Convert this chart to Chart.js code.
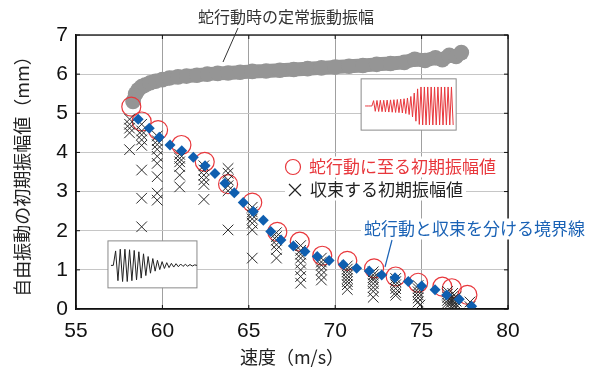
<!DOCTYPE html>
<html>
<head>
<meta charset="utf-8">
<script src="https://cdn.jsdelivr.net/npm/chart.js@4.4.1/dist/chart.umd.min.js"></script>
<style>
  html, body { margin: 0; padding: 0; background: #fff; }
  #wrap { width: 590px; height: 369px; }
</style>
</head>
<body>
<div id="wrap"><canvas id="c"></canvas></div>
<script>
// 蛇行動時の定常振動振幅 (gray band)
const grayX = [58.3, 58.45, 58.6, 58.8, 59.0, 59.3, 59.6, 60.0, 60.4, 60.9, 61.4, 62.0, 62.6, 63.2, 63.8, 64.5, 65.2, 66.0, 66.8, 67.6, 68.4, 69.2, 70.0, 70.8, 71.6, 72.4, 73.2, 74.0, 74.6, 75.2, 75.8, 76.2, 76.6, 77.0, 77.3];
const grayY = [5.3, 5.5, 5.6, 5.68, 5.72, 5.78, 5.82, 5.86, 5.9, 5.93, 5.95, 5.97, 6.0, 6.02, 6.03, 6.05, 6.07, 6.08, 6.1, 6.12, 6.14, 6.16, 6.18, 6.2, 6.22, 6.25, 6.27, 6.3, 6.38, 6.35, 6.42, 6.37, 6.48, 6.45, 6.55];

// 蛇行動に至る初期振幅値 (red circles)
const huntX = [58.2, 58.8, 59.75, 61.1, 62.45, 63.8, 65.2, 66.65, 67.95, 69.25, 70.7, 72.25, 73.5, 74.8, 76.2, 76.75, 77.65];
const huntY = [5.17, 4.79, 4.57, 4.19, 3.76, 3.19, 2.72, 1.97, 1.72, 1.36, 1.23, 1.04, 0.83, 0.67, 0.57, 0.53, 0.36];

// 収束する初期振幅値 (crosses)
const convX = [
  58.1, 58.1, 58.1, 58.1, 58.1,
  58.8, 58.8, 58.8, 58.8, 58.8, 58.8, 58.8, 58.8,
  59.7, 59.7, 59.7, 59.7, 59.7, 59.7, 59.7, 59.7, 59.7,
  61.0, 61.0, 61.0, 61.0, 61.0, 61.0,
  62.4, 62.4, 62.4, 62.4, 62.4, 62.4,
  63.8, 63.8, 63.8, 63.8, 63.8, 63.8,
  65.2, 65.2, 65.2, 65.2, 65.2, 65.2, 65.2,
  66.6, 66.6, 66.6, 66.6, 66.6, 66.6,
  68.0, 68.0, 68.0, 68.0, 68.0, 68.0, 68.0, 68.0,
  69.2, 69.2, 69.2, 69.2, 69.2, 69.2,
  70.7, 70.7, 70.7, 70.7, 70.7, 70.7, 70.7, 70.7,
  72.2, 72.2, 72.2, 72.2, 72.2, 72.2, 72.2, 72.2,
  73.5, 73.5, 73.5, 73.5, 73.5, 73.5,
  74.8, 74.8, 74.8, 74.8, 74.8, 74.8, 74.9,
  76.5, 76.5, 76.5, 76.5, 76.5, 76.5,
  76.8, 76.8, 76.8, 76.8, 76.8, 76.8,
  77.0, 77.0, 77.0, 77.0,
  77.8, 77.8
];
const convY = [
  4.85, 4.72, 4.62, 4.50, 4.07,
  4.72, 4.55, 4.45, 4.32, 4.18, 3.55, 2.83, 2.10,
  4.42, 4.30, 4.20, 4.08, 3.90, 3.72, 3.38, 2.96, 2.78,
  3.95, 3.85, 3.76, 3.64, 3.42, 3.12,
  3.66, 3.55, 3.42, 3.30, 3.18, 2.80,
  3.59, 3.47, 3.30, 3.15, 3.02, 2.02,
  2.60, 2.48, 2.40, 2.30, 2.19, 2.02, 1.30,
  1.95, 1.85, 1.76, 1.64, 1.52, 1.30,
  1.62, 1.50, 1.40, 1.30, 1.17, 1.00, 0.83, 0.66,
  1.30, 1.20, 1.12, 1.00, 0.87, 0.74,
  1.10, 1.02, 0.95, 0.86, 0.78, 0.70, 0.62, 0.50,
  0.95, 0.87, 0.80, 0.74, 0.65, 0.55, 0.45, 0.30,
  0.78, 0.70, 0.62, 0.52, 0.42, 0.35,
  0.60, 0.52, 0.44, 0.36, 0.28, 0.18, 0.10,
  0.45, 0.38, 0.30, 0.22, 0.15, 0.08,
  0.40, 0.32, 0.25, 0.18, 0.10, 0.04,
  0.30, 0.20, 0.12, 0.05,
  0.18, 0.06
];

// 蛇行動と収束を分ける境界線 (blue diamonds)
const bndX = [58.6, 59.24, 59.82, 60.44, 61.12, 61.79, 62.47, 63.04, 63.62, 64.16, 64.68, 65.26, 65.84, 66.27, 66.86, 67.58, 68.25, 68.96, 69.65, 70.47, 71.24, 71.97, 72.69, 73.46, 74.23, 75.0, 75.78, 76.45, 77.18, 77.9];
const bndY = [4.85, 4.62, 4.39, 4.19, 4.04, 3.88, 3.66, 3.46, 3.21, 2.97, 2.72, 2.49, 2.27, 1.98, 1.76, 1.61, 1.47, 1.34, 1.24, 1.14, 1.04, 0.97, 0.87, 0.80, 0.70, 0.59, 0.49, 0.36, 0.25, 0.07];

// inset waveforms (peak values, normalised)
const decayPeaks = [0, 0, 0.85, -0.9, 0.95, -0.95, 0.95, -0.95, 0.92, -0.9, 0.88, -0.85, 0.8, -0.75, 0.68, -0.6, 0.52, -0.46, 0.4, -0.34, 0.3, -0.25, 0.22, -0.18, 0.16, -0.13, 0.12, -0.1, 0.1, -0.08, 0.08, -0.06, 0.06, -0.05, 0.05, -0.04, 0.03, 0];
const growPeaks = [0, 0, 0, 0, 0, 0.28, -0.28, 0.29, -0.29, 0.3, -0.3, 0.3, -0.31, 0.31, -0.32, 0.32, -0.33, 0.33, -0.34, 0.34, -0.35, 0.36, -0.37, 0.38, -0.4, 0.42, -0.45, 0.5, -0.58, 0.68, -0.8, 0.9, -0.97, 1, -1, 1, -1, 1, -1, 1, -1, 1, -1, 1, -1, 1, -1, 1, -1, 1, -1, 1, -1];

const xTicks = [55, 60, 65, 70, 75, 80];
const yTicks = [0, 1, 2, 3, 4, 5, 6, 7];

const jp = '"Noto Sans CJK JP", "Noto Sans CJK SC", sans-serif';

function pts(xs, ys) {
  return xs.map((x, i) => ({ x: x, y: ys[i] }));
}

function wave(ctx, peaks, x0, x1, yc, amp) {
  const step = (x1 - x0) / (peaks.length - 1);
  ctx.beginPath();
  peaks.forEach((p, i) => {
    const px = x0 + i * step;
    const py = yc - p * amp;
    if (i === 0) ctx.moveTo(px, py); else ctx.lineTo(px, py);
  });
  ctx.stroke();
}

function textBox(ctx, text, x, y, color, size) {
  ctx.font = size + 'px ' + jp;
  const w = ctx.measureText(text).width;
  ctx.fillStyle = '#fff';
  ctx.fillRect(x - 3, y - size / 2 - 2, w + 6, size + 4);
  ctx.fillStyle = color;
  ctx.textAlign = 'left';
  ctx.textBaseline = 'middle';
  ctx.fillText(text, x, y);
}

const insets = {
  id: 'insets',
  beforeDatasetsDraw(chart) {
    const { ctx, scales: { x, y } } = chart;
    ctx.save();
    // free decay inset
    let l = x.getPixelForValue(56.85), r = x.getPixelForValue(62.0);
    let t = y.getPixelForValue(1.74), b = y.getPixelForValue(0.54);
    ctx.fillStyle = '#fff';
    ctx.fillRect(l, t, r - l, b - t);
    ctx.strokeStyle = '#8a8a8a';
    ctx.lineWidth = 1;
    ctx.strokeRect(l, t, r - l, b - t);
    ctx.strokeStyle = '#222';
    wave(ctx, decayPeaks, l + 3, r, (t + b) / 2 + 1, 17);
    // hunting inset
    l = x.getPixelForValue(71.5); r = x.getPixelForValue(77.0);
    t = y.getPixelForValue(5.88); b = y.getPixelForValue(4.57);
    ctx.fillStyle = '#fff';
    ctx.fillRect(l, t, r - l, b - t);
    ctx.strokeStyle = '#8a8a8a';
    ctx.strokeRect(l, t, r - l, b - t);
    ctx.strokeStyle = '#e8373c';
    wave(ctx, growPeaks, l + 4, r - 3, (t + b) / 2 + 1.5, 19);
    ctx.restore();
  }
};

const frame = {
  id: 'frame',
  afterDraw(chart) {
    const { ctx, chartArea: a, scales: { x, y } } = chart;
    ctx.save();
    ctx.strokeStyle = '#111';
    ctx.lineWidth = 1.3;
    ctx.strokeRect(a.left, a.top, a.right - a.left, a.bottom - a.top);
    ctx.lineWidth = 1;
    ctx.beginPath();
    xTicks.forEach(v => {
      const px = x.getPixelForValue(v);
      ctx.moveTo(px, a.bottom); ctx.lineTo(px, a.bottom - 4);
      ctx.moveTo(px, a.top); ctx.lineTo(px, a.top + 4);
    });
    yTicks.forEach(v => {
      const py = y.getPixelForValue(v);
      ctx.moveTo(a.left, py); ctx.lineTo(a.left + 4, py);
      ctx.moveTo(a.right, py); ctx.lineTo(a.right - 4, py);
    });
    ctx.stroke();

    // top label with leader
    ctx.font = '16px ' + jp;
    ctx.fillStyle = '#333';
    ctx.textAlign = 'left';
    ctx.textBaseline = 'middle';
    ctx.fillText('蛇行動時の定常振動振幅', 198, 17);
    ctx.strokeStyle = '#333';
    ctx.beginPath();
    ctx.moveTo(238, 28); ctx.lineTo(223, 62);
    ctx.stroke();

    // legend
    textBox(ctx, '蛇行動に至る初期振幅値', 309, 167, '#e8373c', 17);
    ctx.strokeStyle = '#e8373c';
    ctx.lineWidth = 1.2;
    ctx.beginPath();
    ctx.arc(293, 167, 7.5, 0, Math.PI * 2);
    ctx.stroke();
    ctx.fillStyle = '#fff';
    ctx.fillRect(285, 180, 22, 22);
    textBox(ctx, '収束する初期振幅値', 310, 190, '#222', 17);
    ctx.strokeStyle = '#222';
    ctx.lineWidth = 1.2;
    ctx.beginPath();
    ctx.moveTo(289, 184); ctx.lineTo(301, 196);
    ctx.moveTo(301, 184); ctx.lineTo(289, 196);
    ctx.stroke();

    textBox(ctx, '蛇行動と収束を分ける境界線', 364, 229, '#1a62b5', 17);
    ctx.strokeStyle = '#1a62b5';
    ctx.lineWidth = 1.2;
    ctx.beginPath();
    ctx.moveTo(392, 240); ctx.lineTo(385, 267);
    ctx.stroke();
    ctx.restore();
  }
};

Chart.defaults.font.family = '"Liberation Sans", Arial, sans-serif';
Chart.defaults.color = '#111';

new Chart(document.getElementById('c'), {
  type: 'scatter',
  data: {
    datasets: [
      {
        label: '境界線',
        data: pts(bndX, bndY),
        pointStyle: 'rectRot',
        pointRadius: 5.5,
        backgroundColor: '#0f5fb0',
        borderColor: '#0f5fb0',
        borderWidth: 0,
        order: 0
      },
      {
        label: '収束する初期振幅値',
        data: pts(convX, convY),
        pointStyle: 'crossRot',
        pointRadius: 7.5,
        borderColor: '#2a2a2a',
        borderWidth: 1,
        order: 1
      },
      {
        label: '蛇行動に至る初期振幅値',
        data: pts(huntX, huntY),
        pointStyle: 'circle',
        pointRadius: 9.5,
        borderColor: '#e8373c',
        backgroundColor: 'rgba(0,0,0,0)',
        borderWidth: 1.2,
        order: 2
      },
      {
        type: 'line',
        label: '定常振動振幅',
        data: pts(grayX, grayY),
        borderColor: '#959595',
        backgroundColor: '#959595',
        borderWidth: 14,
        borderCapStyle: 'round',
        borderJoinStyle: 'round',
        pointRadius: 7.8,
        pointBorderWidth: 0,
        tension: 0,
        order: 3
      }
    ]
  },
  options: {
    responsive: true,
    maintainAspectRatio: false,
    animation: false,
    layout: {
      padding: { top: 35, right: 82, left: 0, bottom: 0 }
    },
    plugins: {
      legend: { display: false },
      tooltip: { enabled: false }
    },
    scales: {
      x: {
        type: 'linear',
        min: 55,
        max: 80,
        afterFit(s) { s.height = 60; },
        afterBuildTicks(s) { s.ticks = xTicks.map(v => ({ value: v })); },
        grid: { color: '#a0a0a0', drawTicks: false },
        border: { color: '#111', width: 1.3 },
        ticks: { font: { size: 21 }, padding: 10, color: '#111' },
        title: {
          display: true,
          text: '速度（m/s）',
          font: { family: jp, size: 18 },
          color: '#222',
          padding: { top: 0, bottom: 1 }
        }
      },
      y: {
        type: 'linear',
        min: 0,
        max: 7,
        afterFit(s) { s.width = 76; },
        afterBuildTicks(s) { s.ticks = yTicks.map(v => ({ value: v })); },
        grid: { color: '#c6c6c6', drawTicks: false },
        border: { color: '#111', width: 1.3 },
        ticks: { font: { size: 21 }, padding: 8, color: '#111' },
        title: {
          display: true,
          text: '自由振動の初期振幅値（mm）',
          font: { family: jp, size: 18 },
          color: '#222',
          padding: { top: 11, bottom: 0 }
        }
      }
    }
  },
  plugins: [insets, frame]
});
</script>
</body>
</html>
